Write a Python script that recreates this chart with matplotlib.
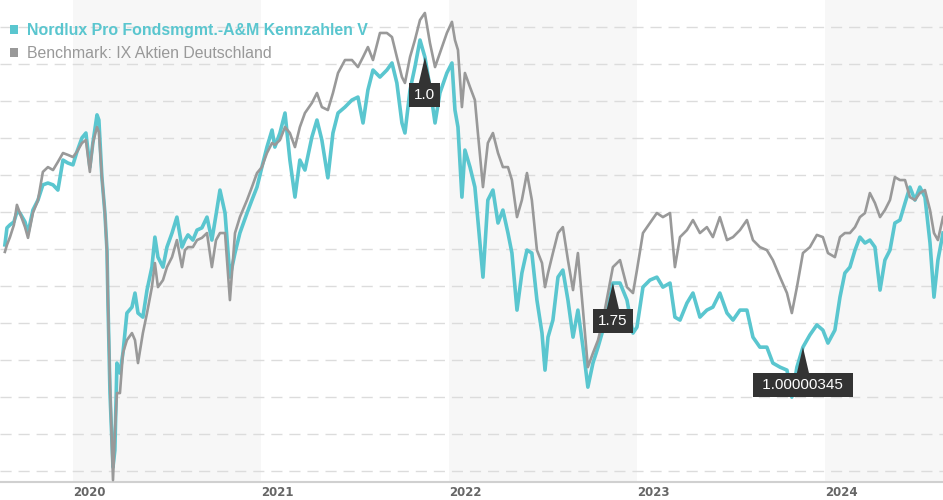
import matplotlib.pyplot as plt
from matplotlib.patches import Rectangle

# decimal-year time axis and index values (no y scale shown)
years = [
    2019.638, 2019.649, 2019.665, 2019.686, 2019.702, 2019.718, 2019.745, 2019.761, 2019.787, 2019.814,
    2019.840, 2019.867, 2019.894, 2019.920, 2019.947, 2019.973, 2020.000, 2020.021, 2020.048, 2020.069,
    2020.090, 2020.106, 2020.128, 2020.138, 2020.154, 2020.170, 2020.181, 2020.186, 2020.197, 2020.213,
    2020.223, 2020.234, 2020.250, 2020.266, 2020.287, 2020.314, 2020.330, 2020.346, 2020.372, 2020.394,
    2020.420, 2020.436, 2020.452, 2020.479, 2020.500, 2020.527, 2020.553, 2020.580, 2020.596, 2020.612,
    2020.638, 2020.660, 2020.686, 2020.713, 2020.739, 2020.761, 2020.782, 2020.809, 2020.835, 2020.862,
    2020.888, 2020.926, 2020.952, 2020.979, 2021.005, 2021.032, 2021.059, 2021.074, 2021.101, 2021.128,
    2021.154, 2021.181, 2021.207, 2021.234, 2021.271, 2021.298, 2021.324, 2021.356, 2021.383, 2021.410,
    2021.447, 2021.484, 2021.516, 2021.543, 2021.569, 2021.596, 2021.633, 2021.670, 2021.697, 2021.723,
    2021.750, 2021.766, 2021.793, 2021.819, 2021.846, 2021.872, 2021.899, 2021.926, 2021.952, 2021.989,
    2022.016, 2022.032, 2022.048, 2022.069, 2022.085, 2022.112, 2022.138, 2022.154, 2022.181, 2022.207,
    2022.234, 2022.261, 2022.287, 2022.314, 2022.335, 2022.362, 2022.388, 2022.415, 2022.441, 2022.468,
    2022.495, 2022.511, 2022.527, 2022.553, 2022.580, 2022.606, 2022.633, 2022.660, 2022.686, 2022.713,
    2022.739, 2022.766, 2022.793, 2022.819, 2022.846, 2022.872, 2022.910, 2022.947, 2022.979, 2023.000,
    2023.032, 2023.069, 2023.106, 2023.138, 2023.176, 2023.202, 2023.229, 2023.266, 2023.298, 2023.335,
    2023.372, 2023.404, 2023.441, 2023.479, 2023.511, 2023.548, 2023.585, 2023.617, 2023.654, 2023.691,
    2023.723, 2023.761, 2023.798, 2023.824, 2023.851, 2023.883, 2023.920, 2023.957, 2023.989, 2024.016,
    2024.053, 2024.080, 2024.106, 2024.133, 2024.160, 2024.186, 2024.213, 2024.239, 2024.266, 2024.293,
    2024.319, 2024.346, 2024.372, 2024.399, 2024.426, 2024.452, 2024.479, 2024.505, 2024.532, 2024.559,
    2024.580, 2024.601, 2024.628,
]

fund = [
    101.1, 105.7, 106.5, 107.3, 110.0, 109.7, 107.3, 104.3, 110.5, 113.2,
    117.3, 117.8, 117.3, 115.9, 124.0, 123.2, 122.7, 126.2, 130.0, 131.3,
    122.1, 128.6, 136.2, 134.8, 119.4, 109.7, 99.7, 86.2, 61.1, 41.1,
    45.7, 69.2, 66.5, 71.9, 82.7, 84.3, 88.1, 82.7, 81.6, 88.9,
    95.1, 103.2, 97.8, 95.1, 100.5, 104.3, 108.6, 100.5, 102.4, 103.8,
    102.4, 105.1, 105.7, 108.6, 102.4, 109.2, 115.9, 109.7, 92.4, 98.9,
    104.3, 109.7, 113.2, 116.7, 122.1, 127.5, 132.1, 127.5, 131.3, 136.7,
    124.0, 114.0, 124.0, 121.3, 130.2, 134.8, 129.4, 119.2, 131.3, 136.7,
    138.3, 140.2, 141.0, 134.0, 142.9, 148.3, 146.4, 148.3, 150.2, 144.8,
    134.0, 131.3, 142.9, 149.1, 156.4, 151.8, 143.7, 134.0, 142.1, 147.5,
    150.2, 137.5, 132.9, 114.0, 126.7, 122.1, 116.7, 107.8, 92.4, 113.2,
    115.9, 107.0, 110.5, 104.3, 98.9, 83.5, 93.5, 99.7, 98.9, 86.2,
    77.3, 67.3, 76.2, 80.8, 92.4, 94.3, 86.2, 76.2, 83.5, 73.5,
    62.7, 69.2, 73.5, 78.1, 84.3, 90.8, 90.8, 86.2, 77.3, 78.9,
    89.7, 91.6, 92.4, 89.7, 90.8, 81.6, 80.8, 85.4, 88.1, 81.6,
    83.5, 84.3, 88.1, 82.7, 80.8, 83.5, 83.5, 76.2, 73.5, 73.5,
    69.2, 68.1, 67.3, 60.0, 68.1, 73.5, 76.8, 79.5, 78.1, 74.6,
    78.1, 87.0, 93.5, 95.1, 99.7, 103.2, 101.6, 102.4, 100.5, 88.9,
    97.0, 99.7, 107.0, 107.8, 112.4, 116.7, 113.2, 116.7, 114.0, 101.6,
    87.0, 97.0, 104.3,
]

bench = [
    99.2, 101.1, 103.2, 106.5, 111.9, 109.7, 105.9, 103.0, 109.7, 113.2,
    120.8, 122.1, 121.3, 123.5, 125.9, 125.4, 124.8, 126.2, 128.6, 129.4,
    120.8, 128.6, 132.9, 131.6, 119.4, 109.7, 99.2, 86.2, 63.8, 37.6,
    50.3, 61.1, 61.1, 71.9, 75.4, 77.3, 75.4, 69.2, 77.3, 82.7,
    89.7, 96.2, 89.7, 91.6, 95.1, 97.8, 102.4, 95.1, 99.7, 100.5,
    100.5, 102.4, 103.0, 104.3, 95.1, 102.4, 104.3, 104.3, 86.2, 104.3,
    108.6, 113.2, 116.7, 120.5, 122.1, 125.9, 128.6, 128.1, 129.4, 132.9,
    131.3, 127.5, 132.9, 136.7, 139.4, 142.1, 138.3, 137.5, 142.1, 147.5,
    151.0, 151.0, 149.1, 151.8, 154.5, 151.0, 158.3, 158.3, 157.2, 151.8,
    146.4, 144.8, 151.8, 156.4, 161.8, 163.7, 155.6, 149.1, 152.9, 158.3,
    161.3, 156.4, 153.7, 138.3, 147.5, 143.7, 140.2, 131.3, 116.7, 128.6,
    131.3, 125.9, 122.1, 122.1, 118.6, 108.6, 113.2, 120.5, 113.2, 99.7,
    96.2, 89.7, 93.5, 98.9, 104.3, 105.9, 97.0, 88.9, 98.9, 83.5,
    68.1, 71.9, 75.4, 80.8, 88.1, 95.1, 97.0, 89.7, 88.1, 94.3,
    104.3, 107.0, 109.7, 108.6, 109.7, 95.1, 103.2, 105.1, 107.8, 104.3,
    105.9, 103.2, 108.6, 102.4, 103.2, 105.1, 107.8, 102.4, 100.5, 99.7,
    97.0, 92.4, 88.1, 82.7, 89.7, 98.9, 100.5, 103.8, 103.2, 98.9,
    97.8, 103.2, 104.3, 104.3, 105.9, 108.6, 109.7, 115.1, 112.4, 108.6,
    110.5, 113.2, 119.4, 118.6, 118.6, 114.0, 113.2, 115.1, 115.9, 110.5,
    104.3, 102.4, 108.6,
]

year_ticks = [2020, 2021, 2022, 2023, 2024]
shaded_years = [2020, 2022, 2024]
grid_levels = list(range(40, 161, 10))

fund_name = "Nordlux Pro Fondsmgmt.-A&M Kennzahlen V"
bench_name = "Benchmark: IX Aktien Deutschland"

# (index into the series, label) for the dark callouts
notes = [(95, "1.0"), (135, "1.75"), (165, " 1.00000345 ")]

teal = "#5ac6cf"
grey = "#999999"

fig = plt.figure(figsize=(9.43, 5), dpi=100)
ax = fig.add_axes([0, 18 / 500, 1, 482 / 500])

for y in shaded_years:
    ax.axvspan(y, y + 1, color="#f7f7f7", lw=0, zorder=0)

ax.set_yticks(grid_levels)
ax.yaxis.grid(True, linestyle=(0, (8, 5)), color="#dcdcdc", lw=1)
ax.set_axisbelow(True)
ax.tick_params(axis="y", left=False, labelleft=False)

ax.plot(years, fund, color=teal, lw=2.6, zorder=3, solid_joinstyle="round")
ax.plot(years, bench, color=grey, lw=1.9, zorder=4, solid_joinstyle="round")

ax.set_xlim(2019.612, 2024.628)
ax.set_ylim(37.1, 167.2)

ax.set_xticks(year_ticks)
ax.set_xticklabels([str(y) for y in year_ticks], ha="left", fontsize=8.5,
                   fontweight="bold", color="#666666", family="DejaVu Sans")
ax.tick_params(axis="x", length=0, pad=3)

for side in ["top", "right", "left"]:
    ax.spines[side].set_visible(False)
ax.spines["bottom"].set_color("#d0d0d0")
ax.spines["bottom"].set_linewidth(1.5)

for i, label in notes:
    ax.annotate(label, xy=(years[i], fund[i]), xytext=(0, -27.5),
                textcoords="offset points", ha="center", va="center",
                fontsize=11, color="white", family="Liberation Sans", zorder=6,
                bbox=dict(boxstyle="square,pad=0.33", fc="#333333", ec="none"),
                arrowprops=dict(arrowstyle="wedge,tail_width=0.8,shrink_factor=0.5",
                                fc="#333333", ec="none", shrinkA=0, shrinkB=0))

# legend
fig.patches.append(Rectangle((10 / 943, 1 - 33.5 / 500), 8 / 943, 8 / 500,
                             transform=fig.transFigure, fc=teal, ec="none"))
fig.patches.append(Rectangle((10 / 943, 1 - 56.5 / 500), 8 / 943, 8 / 500,
                             transform=fig.transFigure, fc=grey, ec="none"))
fig.text(27 / 943, 1 - 30 / 500, fund_name, color=teal, fontsize=11.4,
         fontweight="bold", family="Liberation Sans", va="center")
fig.text(27 / 943, 1 - 53 / 500, bench_name, color=grey, fontsize=11.4,
         family="Liberation Sans", va="center")

fig.savefig("out.png", dpi=100)
